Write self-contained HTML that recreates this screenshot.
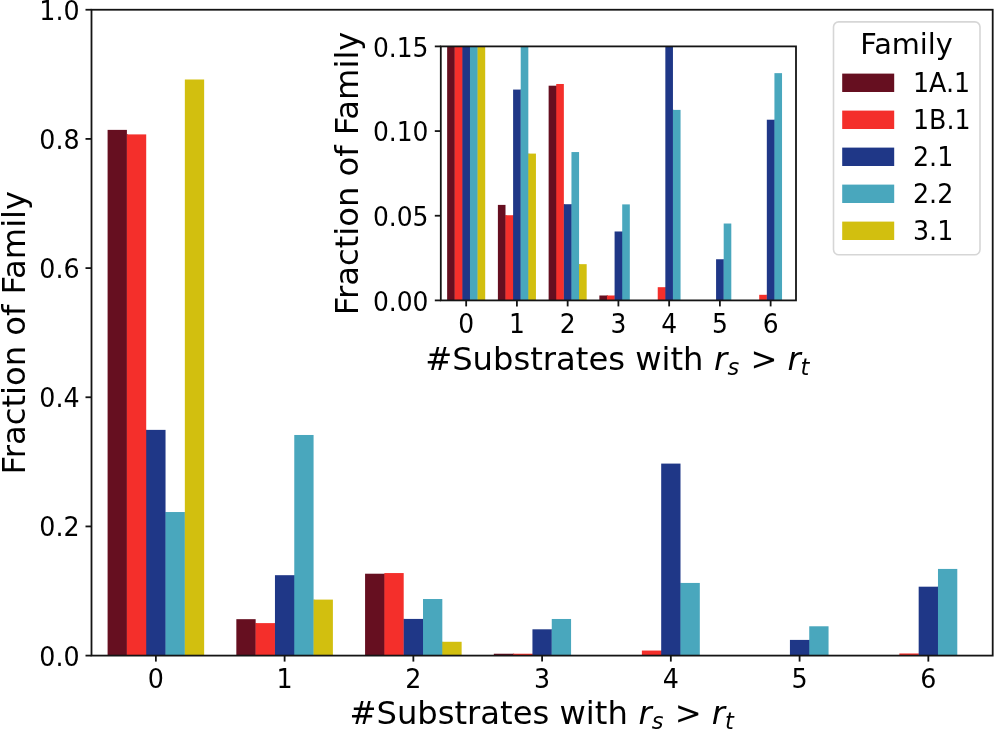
<!DOCTYPE html>
<html><head><meta charset="utf-8"><title>Fraction of Family</title>
<style>
html,body{margin:0;padding:0;background:#fff;}
svg{display:block;font-family:'DejaVu Sans', 'Liberation Sans', sans-serif;}
text{fill:#000;}
</style></head>
<body>
<svg width="994" height="730" viewBox="0 0 994 730">
<rect width="994" height="730" fill="#fff"/>
<clipPath id="cm"><rect x="91.5" y="9.75" width="901.2" height="645.85"/></clipPath>
<rect x="91.5" y="9.75" width="901.2" height="645.85" fill="#fff"/>
<g clip-path="url(#cm)">
<rect x="107.59" y="129.88" width="19.31" height="525.72" fill="#660F20"/>
<rect x="126.7" y="134.4" width="1.2" height="521.2" fill="#660F20"/>
<rect x="126.9" y="134.4" width="19.31" height="521.2" fill="#F42F2B"/>
<rect x="146.02" y="429.88" width="1.2" height="225.72" fill="#F42F2B"/>
<rect x="146.22" y="429.88" width="19.31" height="225.72" fill="#1F3787"/>
<rect x="165.33" y="512.03" width="1.2" height="143.57" fill="#1F3787"/>
<rect x="165.53" y="512.03" width="19.31" height="143.57" fill="#49A7BD"/>
<rect x="184.64" y="512.03" width="1.2" height="143.57" fill="#49A7BD"/>
<rect x="184.84" y="79.5" width="19.31" height="576.1" fill="#D2BF0F"/>
<rect x="236.34" y="619.17" width="19.31" height="36.43" fill="#660F20"/>
<rect x="255.45" y="623.11" width="1.2" height="32.49" fill="#660F20"/>
<rect x="255.65" y="623.11" width="19.31" height="32.49" fill="#F42F2B"/>
<rect x="274.76" y="623.11" width="1.2" height="32.49" fill="#F42F2B"/>
<rect x="274.96" y="575.19" width="19.31" height="80.41" fill="#1F3787"/>
<rect x="294.07" y="575.19" width="1.2" height="80.41" fill="#1F3787"/>
<rect x="294.27" y="434.98" width="19.31" height="220.62" fill="#49A7BD"/>
<rect x="313.38" y="599.6" width="1.2" height="56" fill="#49A7BD"/>
<rect x="313.58" y="599.6" width="19.31" height="56" fill="#D2BF0F"/>
<rect x="365.08" y="573.71" width="19.31" height="81.89" fill="#660F20"/>
<rect x="384.19" y="573.71" width="1.2" height="81.89" fill="#660F20"/>
<rect x="384.39" y="573.06" width="19.31" height="82.54" fill="#F42F2B"/>
<rect x="403.5" y="618.92" width="1.2" height="36.68" fill="#F42F2B"/>
<rect x="403.7" y="618.92" width="19.31" height="36.68" fill="#1F3787"/>
<rect x="422.81" y="618.92" width="1.2" height="36.68" fill="#1F3787"/>
<rect x="423.01" y="599.02" width="19.31" height="56.58" fill="#49A7BD"/>
<rect x="442.12" y="641.78" width="1.2" height="13.82" fill="#49A7BD"/>
<rect x="442.32" y="641.78" width="19.31" height="13.82" fill="#D2BF0F"/>
<rect x="493.82" y="653.73" width="19.31" height="1.87" fill="#660F20"/>
<rect x="512.93" y="653.73" width="1.2" height="1.87" fill="#660F20"/>
<rect x="513.13" y="653.73" width="19.31" height="1.87" fill="#F42F2B"/>
<rect x="532.24" y="653.73" width="1.2" height="1.87" fill="#F42F2B"/>
<rect x="532.44" y="629.31" width="19.31" height="26.29" fill="#1F3787"/>
<rect x="551.56" y="629.31" width="1.2" height="26.29" fill="#1F3787"/>
<rect x="551.76" y="618.98" width="19.31" height="36.62" fill="#49A7BD"/>
<rect x="641.88" y="650.56" width="19.31" height="5.04" fill="#F42F2B"/>
<rect x="660.99" y="650.56" width="1.2" height="5.04" fill="#F42F2B"/>
<rect x="661.19" y="463.59" width="19.31" height="192.01" fill="#1F3787"/>
<rect x="680.3" y="582.94" width="1.2" height="72.66" fill="#1F3787"/>
<rect x="680.5" y="582.94" width="19.31" height="72.66" fill="#49A7BD"/>
<rect x="789.93" y="639.91" width="19.31" height="15.69" fill="#1F3787"/>
<rect x="809.04" y="639.91" width="1.2" height="15.69" fill="#1F3787"/>
<rect x="809.24" y="626.28" width="19.31" height="29.32" fill="#49A7BD"/>
<rect x="899.36" y="653.47" width="19.31" height="2.13" fill="#F42F2B"/>
<rect x="918.47" y="653.47" width="1.2" height="2.13" fill="#F42F2B"/>
<rect x="918.67" y="586.69" width="19.31" height="68.91" fill="#1F3787"/>
<rect x="937.78" y="586.69" width="1.2" height="68.91" fill="#1F3787"/>
<rect x="937.98" y="568.93" width="19.31" height="86.67" fill="#49A7BD"/>
</g>
<rect x="91.5" y="9.75" width="901.2" height="645.85" fill="none" stroke="#141414" stroke-width="1.8"/>
<line x1="155.87" y1="655.6" x2="155.87" y2="661.6" stroke="#141414" stroke-width="1.8"/>
<text transform="translate(155.87,677.86) scale(0.99,1.045)" x="0" y="9.34" text-anchor="middle" font-size="25.6">0</text>
<line x1="284.61" y1="655.6" x2="284.61" y2="661.6" stroke="#141414" stroke-width="1.8"/>
<text transform="translate(284.61,677.86) scale(0.99,1.045)" x="0" y="9.34" text-anchor="middle" font-size="25.6">1</text>
<line x1="413.36" y1="655.6" x2="413.36" y2="661.6" stroke="#141414" stroke-width="1.8"/>
<text transform="translate(413.36,677.86) scale(0.99,1.045)" x="0" y="9.34" text-anchor="middle" font-size="25.6">2</text>
<line x1="542.1" y1="655.6" x2="542.1" y2="661.6" stroke="#141414" stroke-width="1.8"/>
<text transform="translate(542.1,677.86) scale(0.99,1.045)" x="0" y="9.34" text-anchor="middle" font-size="25.6">3</text>
<line x1="670.84" y1="655.6" x2="670.84" y2="661.6" stroke="#141414" stroke-width="1.8"/>
<text transform="translate(670.84,677.86) scale(0.99,1.045)" x="0" y="9.34" text-anchor="middle" font-size="25.6">4</text>
<line x1="799.59" y1="655.6" x2="799.59" y2="661.6" stroke="#141414" stroke-width="1.8"/>
<text transform="translate(799.59,677.86) scale(0.99,1.045)" x="0" y="9.34" text-anchor="middle" font-size="25.6">5</text>
<line x1="928.33" y1="655.6" x2="928.33" y2="661.6" stroke="#141414" stroke-width="1.8"/>
<text transform="translate(928.33,677.86) scale(0.99,1.045)" x="0" y="9.34" text-anchor="middle" font-size="25.6">6</text>
<line x1="85.5" y1="655.6" x2="91.5" y2="655.6" stroke="#141414" stroke-width="1.8"/>
<text transform="translate(79.6,655.86) scale(0.99,1.045)" x="0" y="9.34" text-anchor="end" font-size="25.6">0.0</text>
<line x1="85.5" y1="526.43" x2="91.5" y2="526.43" stroke="#141414" stroke-width="1.8"/>
<text transform="translate(79.6,526.69) scale(0.99,1.045)" x="0" y="9.34" text-anchor="end" font-size="25.6">0.2</text>
<line x1="85.5" y1="397.26" x2="91.5" y2="397.26" stroke="#141414" stroke-width="1.8"/>
<text transform="translate(79.6,397.52) scale(0.99,1.045)" x="0" y="9.34" text-anchor="end" font-size="25.6">0.4</text>
<line x1="85.5" y1="268.09" x2="91.5" y2="268.09" stroke="#141414" stroke-width="1.8"/>
<text transform="translate(79.6,268.35) scale(0.99,1.045)" x="0" y="9.34" text-anchor="end" font-size="25.6">0.6</text>
<line x1="85.5" y1="138.92" x2="91.5" y2="138.92" stroke="#141414" stroke-width="1.8"/>
<text transform="translate(79.6,139.18) scale(0.99,1.045)" x="0" y="9.34" text-anchor="end" font-size="25.6">0.8</text>
<line x1="85.5" y1="9.75" x2="91.5" y2="9.75" stroke="#141414" stroke-width="1.8"/>
<text transform="translate(79.6,10.01) scale(0.99,1.045)" x="0" y="9.34" text-anchor="end" font-size="25.6">1.0</text>
<text transform="translate(24.6,332.68) rotate(-90)" text-anchor="middle" font-size="32.2">Fraction of Family</text>
<text y="723.9" font-size="32.2"><tspan x="349.5">#Substrates with </tspan><tspan x="638.4" font-style="italic">r</tspan><tspan x="651.8" dy="5.2" font-size="22.54" font-style="italic">s</tspan><tspan x="674.8" dy="-5.2">&gt;</tspan><tspan x="711.7" font-style="italic">r</tspan><tspan x="724.9" dy="5.2" font-size="22.54" font-style="italic">t</tspan></text>
<clipPath id="ci"><rect x="440.8" y="46.4" width="355.2" height="254"/></clipPath>
<rect x="440.8" y="46.4" width="355.2" height="254" fill="#fff"/>
<g clip-path="url(#ci)">
<rect x="447.14" y="-1077.97" width="7.61" height="1378.37" fill="#660F20"/>
<rect x="454.55" y="-1066.12" width="1.2" height="1366.52" fill="#660F20"/>
<rect x="454.75" y="-1066.12" width="7.61" height="1366.52" fill="#F42F2B"/>
<rect x="462.17" y="-291.42" width="1.2" height="591.82" fill="#F42F2B"/>
<rect x="462.37" y="-291.42" width="7.61" height="591.82" fill="#1F3787"/>
<rect x="469.78" y="-76.03" width="1.2" height="376.43" fill="#1F3787"/>
<rect x="469.98" y="-76.03" width="7.61" height="376.43" fill="#49A7BD"/>
<rect x="477.39" y="-76.03" width="1.2" height="376.43" fill="#49A7BD"/>
<rect x="477.59" y="-1210.05" width="7.61" height="1510.45" fill="#D2BF0F"/>
<rect x="497.89" y="204.9" width="7.61" height="95.5" fill="#660F20"/>
<rect x="505.3" y="215.23" width="1.2" height="85.17" fill="#660F20"/>
<rect x="505.5" y="215.23" width="7.61" height="85.17" fill="#F42F2B"/>
<rect x="512.91" y="215.23" width="1.2" height="85.17" fill="#F42F2B"/>
<rect x="513.11" y="89.58" width="7.61" height="210.82" fill="#1F3787"/>
<rect x="520.52" y="89.58" width="1.2" height="210.82" fill="#1F3787"/>
<rect x="520.72" y="-278.04" width="7.61" height="578.44" fill="#49A7BD"/>
<rect x="528.13" y="153.59" width="1.2" height="146.81" fill="#49A7BD"/>
<rect x="528.33" y="153.59" width="7.61" height="146.81" fill="#D2BF0F"/>
<rect x="548.63" y="85.69" width="7.61" height="214.71" fill="#660F20"/>
<rect x="556.04" y="85.69" width="1.2" height="214.71" fill="#660F20"/>
<rect x="556.24" y="83.99" width="7.61" height="216.41" fill="#F42F2B"/>
<rect x="563.65" y="204.22" width="1.2" height="96.18" fill="#F42F2B"/>
<rect x="563.85" y="204.22" width="7.61" height="96.18" fill="#1F3787"/>
<rect x="571.26" y="204.22" width="1.2" height="96.18" fill="#1F3787"/>
<rect x="571.46" y="152.06" width="7.61" height="148.34" fill="#49A7BD"/>
<rect x="578.87" y="264.16" width="1.2" height="36.24" fill="#49A7BD"/>
<rect x="579.07" y="264.16" width="7.61" height="36.24" fill="#D2BF0F"/>
<rect x="599.37" y="295.49" width="7.61" height="4.91" fill="#660F20"/>
<rect x="606.78" y="295.49" width="1.2" height="4.91" fill="#660F20"/>
<rect x="606.98" y="295.49" width="7.61" height="4.91" fill="#F42F2B"/>
<rect x="614.39" y="295.49" width="1.2" height="4.91" fill="#F42F2B"/>
<rect x="614.59" y="231.48" width="7.61" height="68.92" fill="#1F3787"/>
<rect x="622.01" y="231.48" width="1.2" height="68.92" fill="#1F3787"/>
<rect x="622.21" y="204.39" width="7.61" height="96.01" fill="#49A7BD"/>
<rect x="657.73" y="287.19" width="7.61" height="13.21" fill="#F42F2B"/>
<rect x="665.14" y="287.19" width="1.2" height="13.21" fill="#F42F2B"/>
<rect x="665.34" y="-203.03" width="7.61" height="503.43" fill="#1F3787"/>
<rect x="672.75" y="109.9" width="1.2" height="190.5" fill="#1F3787"/>
<rect x="672.95" y="109.9" width="7.61" height="190.5" fill="#49A7BD"/>
<rect x="716.08" y="259.25" width="7.61" height="41.15" fill="#1F3787"/>
<rect x="723.49" y="259.25" width="1.2" height="41.15" fill="#1F3787"/>
<rect x="723.69" y="223.52" width="7.61" height="76.88" fill="#49A7BD"/>
<rect x="759.21" y="294.81" width="7.61" height="5.59" fill="#F42F2B"/>
<rect x="766.62" y="294.81" width="1.2" height="5.59" fill="#F42F2B"/>
<rect x="766.82" y="119.72" width="7.61" height="180.68" fill="#1F3787"/>
<rect x="774.23" y="119.72" width="1.2" height="180.68" fill="#1F3787"/>
<rect x="774.43" y="73.15" width="7.61" height="227.25" fill="#49A7BD"/>
</g>
<rect x="440.8" y="46.4" width="355.2" height="254" fill="none" stroke="#141414" stroke-width="1.8"/>
<line x1="466.17" y1="300.4" x2="466.17" y2="306.4" stroke="#141414" stroke-width="1.8"/>
<text transform="translate(466.17,322.86) scale(0.975,1.055)" x="0" y="9.34" text-anchor="middle" font-size="25.6">0</text>
<line x1="516.91" y1="300.4" x2="516.91" y2="306.4" stroke="#141414" stroke-width="1.8"/>
<text transform="translate(516.91,322.86) scale(0.975,1.055)" x="0" y="9.34" text-anchor="middle" font-size="25.6">1</text>
<line x1="567.66" y1="300.4" x2="567.66" y2="306.4" stroke="#141414" stroke-width="1.8"/>
<text transform="translate(567.66,322.86) scale(0.975,1.055)" x="0" y="9.34" text-anchor="middle" font-size="25.6">2</text>
<line x1="618.4" y1="300.4" x2="618.4" y2="306.4" stroke="#141414" stroke-width="1.8"/>
<text transform="translate(618.4,322.86) scale(0.975,1.055)" x="0" y="9.34" text-anchor="middle" font-size="25.6">3</text>
<line x1="669.14" y1="300.4" x2="669.14" y2="306.4" stroke="#141414" stroke-width="1.8"/>
<text transform="translate(669.14,322.86) scale(0.975,1.055)" x="0" y="9.34" text-anchor="middle" font-size="25.6">4</text>
<line x1="719.89" y1="300.4" x2="719.89" y2="306.4" stroke="#141414" stroke-width="1.8"/>
<text transform="translate(719.89,322.86) scale(0.975,1.055)" x="0" y="9.34" text-anchor="middle" font-size="25.6">5</text>
<line x1="770.63" y1="300.4" x2="770.63" y2="306.4" stroke="#141414" stroke-width="1.8"/>
<text transform="translate(770.63,322.86) scale(0.975,1.055)" x="0" y="9.34" text-anchor="middle" font-size="25.6">6</text>
<line x1="434.8" y1="300.4" x2="440.8" y2="300.4" stroke="#141414" stroke-width="1.8"/>
<text transform="translate(428.5,300.66) scale(0.975,1.055)" x="0" y="9.34" text-anchor="end" font-size="25.6">0.00</text>
<line x1="434.8" y1="215.73" x2="440.8" y2="215.73" stroke="#141414" stroke-width="1.8"/>
<text transform="translate(428.5,215.99) scale(0.975,1.055)" x="0" y="9.34" text-anchor="end" font-size="25.6">0.05</text>
<line x1="434.8" y1="131.07" x2="440.8" y2="131.07" stroke="#141414" stroke-width="1.8"/>
<text transform="translate(428.5,131.32) scale(0.975,1.055)" x="0" y="9.34" text-anchor="end" font-size="25.6">0.10</text>
<line x1="434.8" y1="46.4" x2="440.8" y2="46.4" stroke="#141414" stroke-width="1.8"/>
<text transform="translate(428.5,46.66) scale(0.975,1.055)" x="0" y="9.34" text-anchor="end" font-size="25.6">0.15</text>
<text transform="translate(358,173.4) rotate(-90)" text-anchor="middle" font-size="32.2">Fraction of Family</text>
<text y="370.2" font-size="32.2"><tspan x="425.2">#Substrates with </tspan><tspan x="714.1" font-style="italic">r</tspan><tspan x="727.5" dy="5.2" font-size="22.54" font-style="italic">s</tspan><tspan x="750.5" dy="-5.2">&gt;</tspan><tspan x="787.4" font-style="italic">r</tspan><tspan x="800.6" dy="5.2" font-size="22.54" font-style="italic">t</tspan></text>
<rect x="833.5" y="21.9" width="146.5" height="232.8" rx="5.1" ry="5.1" fill="#fff" fill-opacity="0.8" stroke="#d6d6d6" stroke-width="1.6"/>
<text x="906.6" y="54" text-anchor="middle" font-size="28.8">Family</text>
<rect x="842.2" y="73.6" width="52" height="18.4" fill="#660F20"/>
<text transform="translate(913,82.36) scale(0.99,1.02)" x="0" y="9.34" text-anchor="start" font-size="25.6">1A.1</text>
<rect x="842.2" y="110.6" width="52" height="18.4" fill="#F42F2B"/>
<text transform="translate(913,119.43) scale(0.99,1.02)" x="0" y="9.34" text-anchor="start" font-size="25.6">1B.1</text>
<rect x="842.2" y="147.6" width="52" height="18.4" fill="#1F3787"/>
<text transform="translate(913,156.5) scale(0.99,1.02)" x="0" y="9.34" text-anchor="start" font-size="25.6">2.1</text>
<rect x="842.2" y="184.6" width="52" height="18.4" fill="#49A7BD"/>
<text transform="translate(913,193.57) scale(0.99,1.02)" x="0" y="9.34" text-anchor="start" font-size="25.6">2.2</text>
<rect x="842.2" y="221.6" width="52" height="18.4" fill="#D2BF0F"/>
<text transform="translate(913,230.64) scale(0.99,1.02)" x="0" y="9.34" text-anchor="start" font-size="25.6">3.1</text>
</svg>
</body></html>
